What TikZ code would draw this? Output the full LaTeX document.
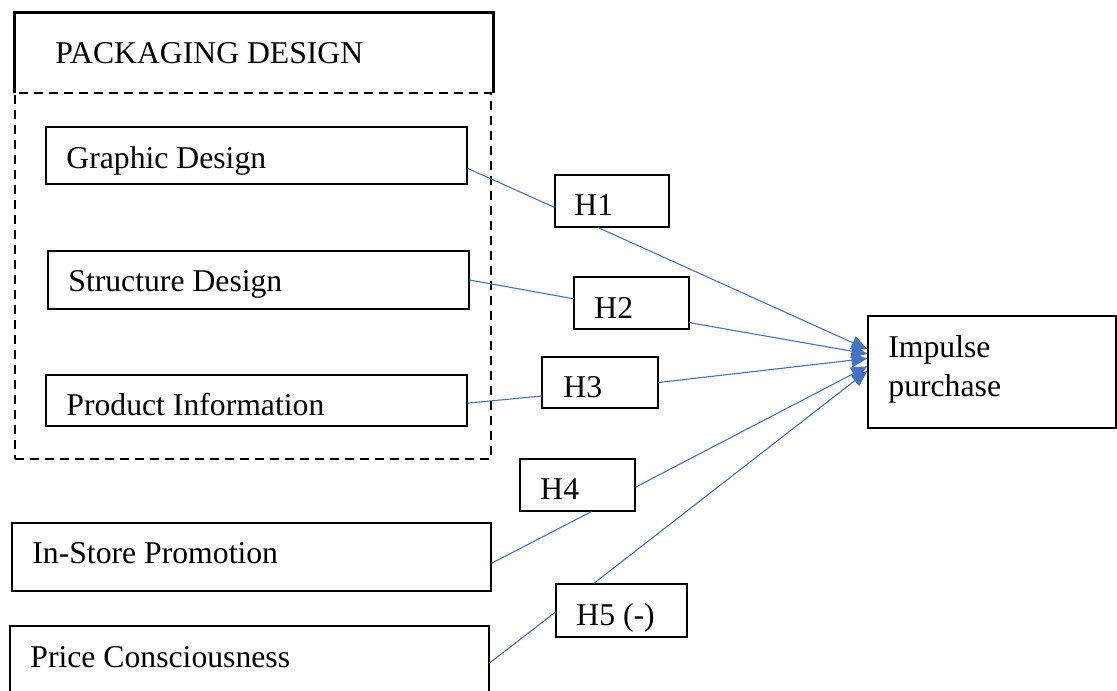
\documentclass[tikz,border=0pt]{standalone}
\usepackage{fontspec}
\setmainfont{Liberation Serif}
\usetikzlibrary{arrows.meta,calc,fit}
\definecolor{linkblue}{HTML}{4472C4}
\begin{document}
\begin{tikzpicture}[x=0.5pt,y=-0.5pt,
  frame/.style={draw=black, line width=0.6pt, inner sep=0pt},
  txt/.style={anchor=base west, inner sep=0pt, font=\fontsize{15.85}{14.6}\selectfont},
  link/.style={draw=linkblue, line width=0.55pt},
  tolink/.style={link, -{Triangle[length=8pt,width=7pt]}}]
  \clip (0,0) rectangle (1117,690);

  % packaging design group
  \node[inner sep=0pt, fit={(15,13) (493,93)}] (pkg) {};
  \draw[line width=1.15pt] (pkg.south west) |- (pkg.north east) -- (pkg.south east);
  \node[draw=black, line width=1.2pt, dash pattern=on 4.5pt off 3pt, inner sep=0pt,
        fit={(15,93) (491,459)}] (grp) {};
  \node[txt] (pkgt) at (55,64) {PACKAGING DESIGN};

  % construct boxes
  \node[frame, fit={(46,127) (467,184)}] (gd) {};
  \node[txt] (gdt) at (66,168) {Graphic Design};
  \node[frame, fit={(48,251) (469,309)}] (sd) {};
  \node[txt] (sdt) at (68,291) {Structure Design};
  \node[frame, fit={(46,375) (467,426)}] (pi) {};
  \node[txt] (pit) at (66,415) {Product Information};
  \node[frame, fit={(12,523) (491,591)}] (isp) {};
  \node[txt] (ispt) at (32,563) {In-Store Promotion};
  \node[frame, fit={(10,626) (489,700)}] (pc) {};
  \node[txt] (pct) at (30,667) {Price Consciousness};

  % outcome
  \node[frame, fit={(868,316) (1116,428)}] (imp) {};
  \node[txt] (impt1) at (888,357) {Impulse};
  \node[txt] (impt2) at (888,396) {purchase};

  % hypothesis labels
  \node[frame, fit={(555,175) (669,227)}] (h1) {};
  \node[txt] (h1t) at (574,215) {H1};
  \node[frame, fit={(574,277) (689,329)}] (h2) {};
  \node[txt] (h2t) at (594,318) {H2};
  \node[frame, fit={(542,357) (658,408)}] (h3) {};
  \node[txt] (h3t) at (563,397) {H3};
  \node[frame, fit={(520,459) (635,511)}] (h4) {};
  \node[txt] (h4t) at (540,499) {H4};
  \node[frame, fit={(556,584) (687,637)}] (h5) {};
  \node[txt] (h5t) at (576,625) {H5 (-)};

  % paths: construct -> hypothesis -> impulse purchase
  \draw[link] ($(gd.north east)!0.72!(gd.south east)$) -- ($(h1.north west)!0.62!(h1.south west)$);
  \draw[tolink] ($(h1.south west)!0.38!(h1.south east)$) -- ($(imp.north west)!0.30!(imp.south west)$);

  \draw[link] (sd.east) -- ($(h2.north west)!0.42!(h2.south west)$);
  \draw[tolink] ($(h2.north east)!0.87!(h2.south east)$) -- ($(imp.north west)!0.34!(imp.south west)$);

  \draw[link] ($(pi.north east)!0.55!(pi.south east)$) -- ($(h3.north west)!0.76!(h3.south west)$);
  \draw[tolink] (h3.east) -- ($(imp.north west)!0.38!(imp.south west)$);

  \draw[link] ($(isp.north east)!0.59!(isp.south east)$) -- ($(h4.south west)!0.62!(h4.south east)$);
  \draw[tolink] ($(h4.north east)!0.54!(h4.south east)$) -- ($(imp.north west)!0.45!(imp.south west)$);

  \draw[link] (pc.east) -- ($(h5.north west)!0.53!(h5.south west)$);
  \draw[tolink] ($(h5.north west)!0.29!(h5.north east)$) -- ($(imp.north west)!0.49!(imp.south west)$);
\end{tikzpicture}
\end{document}
